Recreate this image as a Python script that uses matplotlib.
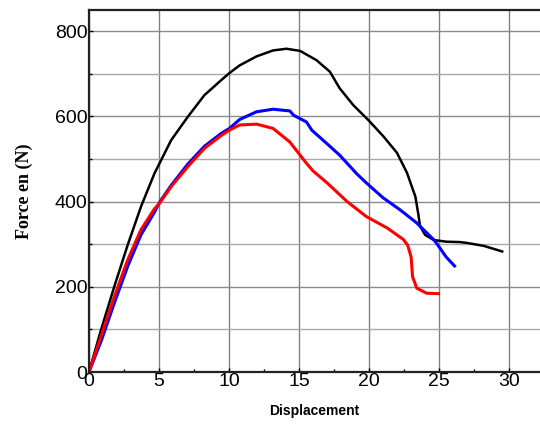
import matplotlib
matplotlib.use("Agg")
import matplotlib.pyplot as plt
from matplotlib.ticker import MultipleLocator

# curves (displacement, force in N)
black_x = [0, 0.86, 1.81, 2.76, 3.71, 4.67, 5.86, 7.05, 8.24, 9.43, 10.03, 10.76, 11.96, 13.14,
           14.1, 15.07, 16.25, 17.2, 17.9, 18.86, 19.93, 21.0, 21.98, 22.7, 23.3, 23.5, 23.64,
           24.0, 24.6, 25.5, 26.5, 27.0, 28.2, 29.5]
black_y = [0, 99, 201, 298, 388, 466, 544, 599, 650, 685, 702, 720, 741, 755,
           759, 754, 732, 705, 666, 627, 592, 554, 515, 468, 412, 373, 342,
           322, 310, 306, 305, 303, 296, 283]

blue_x = [0, 0.86, 1.81, 2.76, 3.71, 4.67, 5.07, 5.86, 7.05, 8.24, 9.43, 10.03, 10.76, 11.96,
          13.14, 14.34, 14.6, 15.53, 15.9, 16.96, 17.9, 19.1, 19.8, 21.0, 22.2, 23.4, 24.6,
          24.8, 25.5, 26.1]
blue_y = [0, 72, 162, 248, 322, 375, 400, 438, 488, 530, 560, 572, 593, 611,
          617, 613, 603, 587, 568, 537, 509, 466, 444, 409, 381, 350, 311,
          303, 270, 249]

red_x = [0, 0.86, 1.81, 2.76, 3.71, 4.67, 5.03, 5.86, 7.05, 8.24, 9.43, 10.03, 10.76, 11.96,
         13.14, 14.34, 15.53, 16.0, 17.0, 18.4, 19.8, 21.3, 22.45, 22.75, 23.0, 23.1, 23.4,
         24.1, 24.95]
red_y = [0, 84, 177, 263, 334, 383, 396, 435, 482, 525, 555, 568, 580, 582,
         572, 540, 490, 472, 444, 401, 365, 338, 311, 298, 270, 224, 197,
         185, 184]

x_ticks = [0, 5, 10, 15, 20, 25, 30]
y_ticks = [0, 200, 400, 600, 800]

fig = plt.figure(figsize=(5.4, 4.25), dpi=100)
ax = fig.add_axes([0.1648, 0.1247, 0.8352, 0.8518])

ax.plot(black_x, black_y, color="black", lw=1.8)
ax.plot(blue_x, blue_y, color="#0000ff", lw=2.2)
ax.plot(red_x, red_y, color="#ff0000", lw=2.2)

ax.set_xlim(0, 32.2)
ax.set_ylim(0, 850)
ax.set_xticks(x_ticks)
ax.set_yticks(y_ticks)
ax.xaxis.set_minor_locator(MultipleLocator(2.5))
ax.yaxis.set_minor_locator(MultipleLocator(100))

ax.grid(True, which="major", color="#8c8c8c", lw=1)
ax.grid(True, which="minor", axis="y", color="#a8a8a8", lw=1)
ax.grid(True, which="major", axis="x", color="#808080", lw=1)
ax.set_axisbelow(True)

for side in ["left", "top", "bottom"]:
    ax.spines[side].set_linewidth(1.6)
    ax.spines[side].set_color("#222222")
ax.spines["right"].set_visible(False)

ax.tick_params(which="both", direction="in", length=3, width=1, labelsize=14, pad=1)
ax.tick_params(which="minor", length=2)
for lab in ax.get_xticklabels() + ax.get_yticklabels():
    lab.set_fontfamily("Liberation Sans")

ax.set_xlabel("Displacement", fontsize=10, fontweight="bold", family="Liberation Sans", labelpad=10)
ax.set_ylabel("Force en (N)", fontsize=13, fontweight="bold", family="Liberation Serif", labelpad=16)

fig.savefig("out.png", dpi=100)
